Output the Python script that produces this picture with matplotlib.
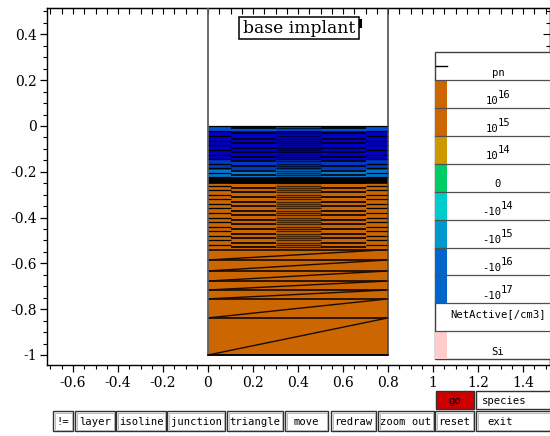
import matplotlib
matplotlib.use('Agg')
import matplotlib.pyplot as plt
from matplotlib.patches import Rectangle
from matplotlib.ticker import FixedLocator, FuncFormatter, NullFormatter

plt.rcParams['axes.unicode_minus'] = False

# ------------------------------------------------------------------ data
device_x = [0.0, 0.8]
device_y = [-1.0, 0.0]

# doping colour bands of the structure
band_top = [0.0, -0.02, -0.15, -0.19, -0.245]
band_bottom = [-0.02, -0.15, -0.19, -0.245, -1.0]
band_color = ['#0050d0', '#0000c8', '#0038c8', '#0078d0', '#cc6600']

# mesh lines (y-levels)
y_outer = [-0.02, -0.045, -0.065, -0.085, -0.105, -0.125, -0.145, -0.165,
           -0.185, -0.205, -0.222, -0.26, -0.28, -0.30, -0.32, -0.34,
           -0.36, -0.38, -0.40, -0.42, -0.44, -0.46, -0.48, -0.50, -0.52]
y_side = [-0.01, -0.03, -0.055, -0.075, -0.095, -0.115, -0.135, -0.155,
          -0.175, -0.195, -0.215, -0.25, -0.27, -0.29, -0.31, -0.33,
          -0.35, -0.37, -0.39, -0.41, -0.43, -0.45, -0.47, -0.49, -0.51,
          -0.53]
y_junction = [-0.227, -0.231, -0.235, -0.239, -0.243, -0.247]
y_coarse = [-0.54, -0.585, -0.633, -0.677, -0.716, -0.755, -0.838, -1.0]

col_outer = [(0.0, 0.1), (0.7, 0.8)]
col_side = [(0.1, 0.3), (0.5, 0.7)]
col_center = [(0.3, 0.5)]

xticks_major = [-0.6, -0.4, -0.2, 0, 0.2, 0.4, 0.6, 0.8, 1, 1.2, 1.4]
yticks_major = [0.4, 0.2, 0, -0.2, -0.4, -0.6, -0.8, -1]

legend_labels = ['10^16', '10^15', '10^14', '0', '-10^14', '-10^15',
                 '-10^16', '-10^17']
legend_colors = ['#cc6600', '#cc6600', '#cc9900', '#00cc66', '#00cccc',
                 '#0099cc', '#0066cc', '#0066cc']
legend_title = 'pn'
legend_quantity = 'NetActive[/cm3]'
region_label = 'Si'
region_color = '#ffcccc'

title_text = 'base implant'

buttons_row1 = ['go', 'species']
buttons_row1_color = ['#cc0000', 'white']
buttons_row2 = ['!=', 'layer', 'isoline', 'junction', 'triangle', 'move',
                'redraw', 'zoom out', 'reset', 'exit']

# ------------------------------------------------------------------ layout
W, H = 550, 436
fig = plt.figure(figsize=(W / 100, H / 100), dpi=100)
fig.patch.set_facecolor('white')

ax_l, ax_r, ax_t, ax_b = 47, 550, 8, 365
ax = fig.add_axes([ax_l / W, 1 - ax_b / H, (ax_r - ax_l) / W, (ax_b - ax_t) / H])
x0_px, xs = 208, 225.0
y0_px, ys = 126, 229.0
ax.set_xlim((ax_l - x0_px) / xs, (ax_r - x0_px) / xs)
ax.set_ylim((y0_px - ax_b) / ys, (y0_px - ax_t) / ys)

# doping bands
for t, b, c in zip(band_top, band_bottom, band_color):
    ax.fill_between(device_x, b, t, color=c, lw=0, zorder=1)

def hl(ys_, spans, lw=0.9, color='black', alpha=1.0):
    for (a, b) in spans:
        ax.hlines(ys_, a, b, colors=color, lw=lw, alpha=alpha, zorder=3)

hl(y_outer, col_outer)
hl(y_side, col_side, lw=1.2)
hl(sorted(y_outer + y_side), col_center, lw=1.0, color='black', alpha=0.68)
hl(y_junction, [(device_x[0], device_x[1])], lw=1.2)
hl(y_coarse, [(device_x[0], device_x[1])], lw=1.1)
hl([0.0], [(device_x[0], device_x[1])], lw=0.9)

# diagonal mesh edges in the coarse region
for upper, lower in zip(y_coarse[:-1], y_coarse[1:]):
    ax.plot(device_x, [lower, upper], color='#1a0a00', lw=1.0, zorder=3)

# device outline
ytop = ax.get_ylim()[1]
ax.plot([device_x[0], device_x[0]], [device_y[0], ytop], color='#606060', lw=1.3, zorder=4)
ax.plot([device_x[1], device_x[1]], [device_y[0], ytop], color='#404040', lw=1.1, zorder=4)
ax.plot(device_x, [device_y[0], device_y[0]], color='black', lw=1.1, zorder=4)

# axes styling
for s in ax.spines.values():
    s.set_linewidth(1.0)
xminor = [i * 0.05 for i in range(-14, 31)]
yminor = [i * 0.05 for i in range(-21, 11)]
ax.xaxis.set_major_locator(FixedLocator(xticks_major))
ax.yaxis.set_major_locator(FixedLocator(yticks_major))
ax.xaxis.set_minor_locator(FixedLocator(xminor))
ax.yaxis.set_minor_locator(FixedLocator(yminor))
fmt = FuncFormatter(lambda v, p: '%g' % round(v, 2))
ax.xaxis.set_major_formatter(fmt)
ax.yaxis.set_major_formatter(fmt)
ax.tick_params(axis='x', which='both', bottom=True, top=False, direction='out',
               labelsize=10, pad=3)
ax.tick_params(axis='x', which='major', length=5, width=0.9)
ax.tick_params(axis='x', which='minor', length=3, width=0.8)
ax.tick_params(axis='y', which='both', left=True, right=False, direction='out',
               labelsize=10, pad=2)
ax.tick_params(axis='y', which='major', length=5, width=0.9)
ax.tick_params(axis='y', which='minor', length=3, width=0.8)
for lab in ax.get_xticklabels() + ax.get_yticklabels():
    lab.set_fontfamily('DejaVu Serif')

# inward ticks on top and right
sx = ax.secondary_xaxis('top')
sx.xaxis.set_major_locator(FixedLocator(xticks_major))
sx.xaxis.set_minor_locator(FixedLocator(xminor))
sx.xaxis.set_major_formatter(NullFormatter())
sx.tick_params(axis='x', which='both', direction='in', length=4, width=0.8)
sy = ax.secondary_yaxis('right')
sy.yaxis.set_major_locator(FixedLocator(yticks_major))
sy.yaxis.set_minor_locator(FixedLocator(yminor))
sy.yaxis.set_major_formatter(NullFormatter())
sy.tick_params(axis='y', which='major', direction='in', length=5, width=0.8)
sy.tick_params(axis='y', which='minor', direction='in', length=3, width=0.8)

# ------------------------------------------------------------------ overlay (legend, title, buttons)
ov = fig.add_axes([0, 0, 1, 1], zorder=10)
ov.set_xlim(0, W)
ov.set_ylim(H, 0)
ov.axis('off')

mono = 'DejaVu Sans Mono'
fs = 7.6

# title box
ov.add_patch(Rectangle((239, 17), 120, 22, facecolor='white', edgecolor='black', lw=1.1))
ov.text(299, 28.5, title_text, ha='center', va='center', fontsize=12.3,
        family='DejaVu Serif')
ov.plot([359.5, 359.5], [20, 26], color='black', lw=2.2)

# legend box
lg_l, lg_t, lg_b, lg_r = 434.5, 52.5, 359, 560
row_h = (lg_b - lg_t) / 11.0
ov.add_patch(Rectangle((lg_l, lg_t), lg_r - lg_l, lg_b - lg_t, facecolor='white',
                       edgecolor='#404040', lw=1.0, clip_on=False))
cx = 498
cw = 6.4
# header row
ov.plot([lg_l + 1, 447], [66, 66], color='black', lw=1.0)
ov.text(cx, lg_t + row_h - 4, legend_title, ha='center', va='baseline',
        fontsize=fs, family=mono)
for i, (lab, col) in enumerate(zip(legend_labels, legend_colors)):
    top = lg_t + row_h * (i + 1)
    bot = top + row_h
    ov.add_patch(Rectangle((lg_l + 0.5, top), 12, row_h, facecolor=col, lw=0))
    ov.plot([lg_l, W], [top, top], color='#505050', lw=0.9)
    if '^' in lab:
        base, ex = lab.split('^')
        split = cx + (len(base) - len(ex)) / 2.0 * cw
        ov.text(split, bot - 4.5, base, ha='right', va='baseline', fontsize=fs, family=mono)
        ov.text(split, bot - 10.5, ex, ha='left', va='baseline', fontsize=fs, family=mono)
    else:
        ov.text(cx, bot - 5, lab, ha='center', va='baseline', fontsize=fs, family=mono)
# quantity row
top = lg_t + row_h * 9
ov.plot([lg_l, W], [top, top], color='#505050', lw=0.9)
ov.text(cx, top + 14, legend_quantity, ha='center', va='baseline', fontsize=fs, family=mono)
# region row
top = lg_t + row_h * 10
ov.plot([lg_l, W], [top, top], color='#505050', lw=0.9)
ov.add_patch(Rectangle((lg_l + 0.5, top), 12, row_h, facecolor=region_color, lw=0))
ov.text(cx, lg_b - 4, region_label, ha='center', va='baseline', fontsize=fs, family=mono)

# buttons
row1_edges = [(436, 474), (476, 560)]
for (a, b), lab, col in zip(row1_edges, buttons_row1, buttons_row1_color):
    ov.add_patch(Rectangle((a, 391), b - a, 18, facecolor=col, edgecolor='#303030',
                           lw=1.0, clip_on=False))
    ov.text(a + 6 if lab == 'species' else (a + b) / 2, 400.5, lab,
            ha='left' if lab == 'species' else 'center', va='center',
            fontsize=fs, family=mono)
row2_edges = [(53, 73), (75, 115), (116, 166), (167, 225), (227, 283), (285, 328),
              (331, 376), (378, 434), (435, 474), (476, 560)]
for (a, b), lab in zip(row2_edges, buttons_row2):
    ov.add_patch(Rectangle((a, 411), b - a, 20, facecolor='white', edgecolor='#303030',
                           lw=1.0, clip_on=False))
    ov.add_patch(Rectangle((a + 1.5, 412.5), b - a - 3, 17, facecolor='none',
                           edgecolor='#b0b0b0', lw=0.6, clip_on=False))
    xc = (a + b) / 2 if lab != 'exit' else 500
    ov.text(xc, 421.5, lab, ha='center', va='center', fontsize=fs, family=mono)

fig.savefig('out.png', dpi=100, facecolor='white')
